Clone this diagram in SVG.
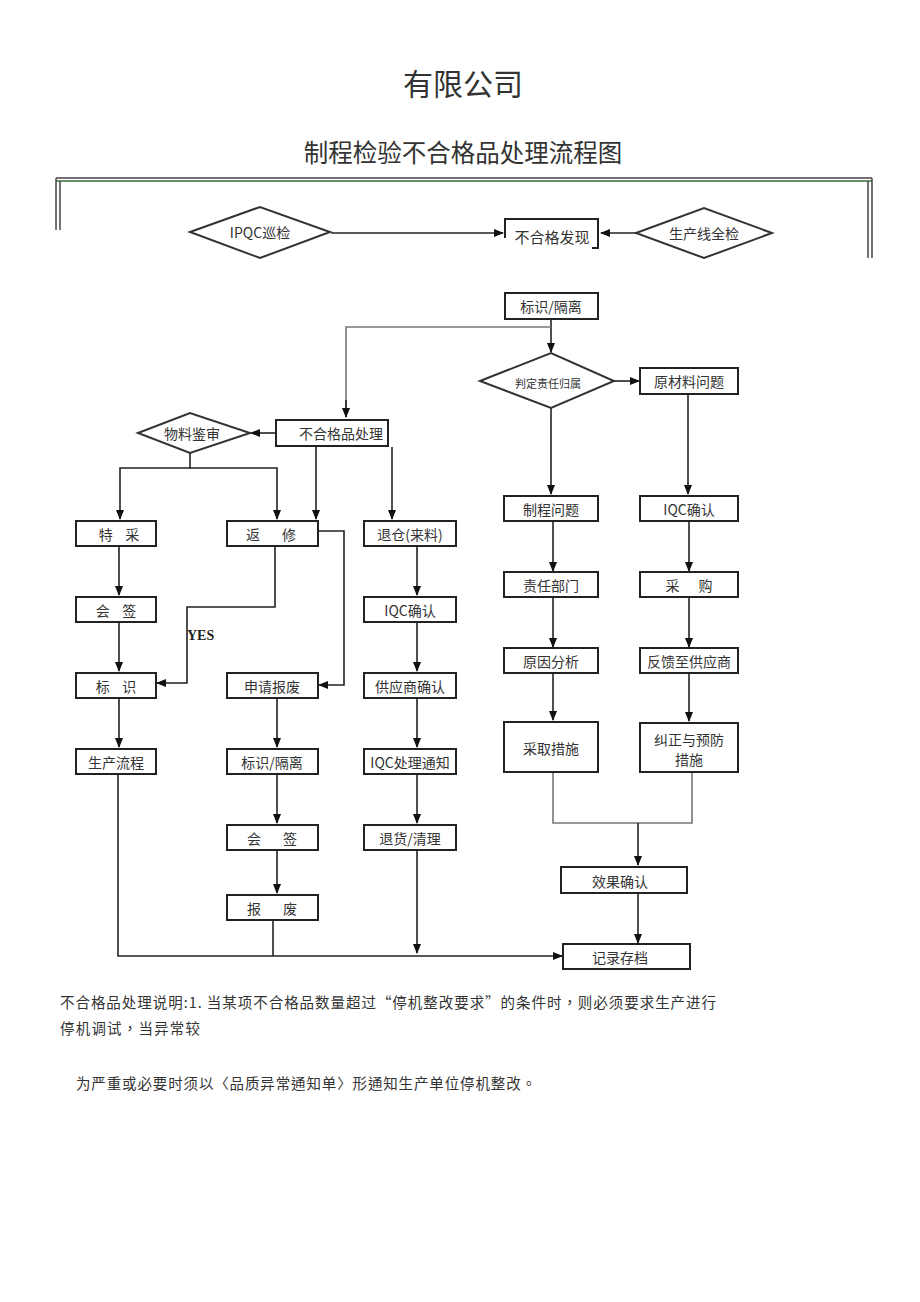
<svg xmlns="http://www.w3.org/2000/svg" width="920" height="1302" viewBox="0 0 920 1302">
<style>
.t{font-family:"Noto Sans CJK SC","Noto Sans",sans-serif;fill:#333;text-anchor:middle;dominant-baseline:central}
.b{fill:#fff;stroke:#222;stroke-width:2}
.d{fill:#fff;stroke:#333;stroke-width:2}
.c{fill:none;stroke:#222;stroke-width:1.6}
.g{fill:none;stroke:#777;stroke-width:1.6}
.f{fill:none;stroke:#444;stroke-width:1.5}
</style>
<defs>
<marker id="a" markerWidth="10" markerHeight="10" refX="9" refY="5" orient="auto" markerUnits="userSpaceOnUse">
<path d="M0,1 L10,5 L0,9 Z" fill="#111"/>
</marker>
</defs>
<rect width="920" height="1302" fill="#fff"/>
<text class="t" x="463" y="82" font-size="30">有限公司</text>
<text class="t" x="463" y="151" font-size="24.5">制程检验不合格品处理流程图</text>
<g id="frame">
<line class="f" x1="56" y1="178" x2="872" y2="178"/>
<line x1="56" y1="181" x2="872" y2="181" stroke="#3a6a3a" stroke-width="1.5"/>
<line class="f" x1="56" y1="178" x2="56" y2="230"/>
<line class="f" x1="60" y1="181" x2="60" y2="230"/>
<line class="f" x1="868" y1="181" x2="868" y2="258"/>
<line class="f" x1="872" y1="178" x2="872" y2="258"/>
</g>
<g id="connectors">
<line class="c" x1="331" y1="233" x2="503" y2="233" marker-end="url(#a)"/>
<line class="c" x1="636" y1="233" x2="601" y2="233" marker-end="url(#a)"/>
<line class="c" x1="551" y1="320" x2="551" y2="352" marker-end="url(#a)"/>
<polyline class="g" points="551,327 346,327 346,417" />
<line class="c" x1="346" y1="400" x2="346" y2="417" marker-end="url(#a)"/>
<line class="c" x1="614" y1="381" x2="639" y2="381" marker-end="url(#a)"/>
<line class="c" x1="276" y1="433" x2="251" y2="433" marker-end="url(#a)"/>
<polyline class="c" points="190,453 190,468 120,468 120,519" marker-end="url(#a)"/>
<polyline class="c" points="190,468 277,468 277,519" marker-end="url(#a)"/>
<line class="c" x1="316" y1="447" x2="316" y2="519" marker-end="url(#a)"/>
<line class="c" x1="392" y1="447" x2="392" y2="519" marker-end="url(#a)"/>
<line class="c" x1="551" y1="408" x2="551" y2="494" marker-end="url(#a)"/>
<line class="c" x1="688" y1="395" x2="688" y2="494" marker-end="url(#a)"/>
<line class="c" x1="119" y1="547" x2="119" y2="595" marker-end="url(#a)"/>
<line class="c" x1="119" y1="623" x2="119" y2="671" marker-end="url(#a)"/>
<line class="c" x1="119" y1="699" x2="119" y2="747" marker-end="url(#a)"/>
<polyline class="c" points="275,547 275,607 187,607 187,683 157,683" marker-end="url(#a)"/>
<polyline class="c" points="319,531 344,531 344,685 319,685" marker-end="url(#a)"/>
<line class="c" x1="277" y1="699" x2="277" y2="747" marker-end="url(#a)"/>
<line class="c" x1="277" y1="774" x2="277" y2="823" marker-end="url(#a)"/>
<line class="c" x1="277" y1="850" x2="277" y2="893" marker-end="url(#a)"/>
<line class="c" x1="417" y1="547" x2="417" y2="595" marker-end="url(#a)"/>
<line class="c" x1="417" y1="623" x2="417" y2="671" marker-end="url(#a)"/>
<line class="c" x1="417" y1="699" x2="417" y2="747" marker-end="url(#a)"/>
<line class="c" x1="417" y1="774" x2="417" y2="823" marker-end="url(#a)"/>
<line class="c" x1="417" y1="850" x2="417" y2="953" marker-end="url(#a)"/>
<polyline class="c" points="118,774 118,956 562,956" marker-end="url(#a)"/>
<line class="c" x1="273" y1="920" x2="273" y2="956"/>
<line class="c" x1="553" y1="522" x2="553" y2="571" marker-end="url(#a)"/>
<line class="c" x1="553" y1="598" x2="553" y2="647" marker-end="url(#a)"/>
<line class="c" x1="553" y1="674" x2="553" y2="720" marker-end="url(#a)"/>
<line class="c" x1="689" y1="522" x2="689" y2="571" marker-end="url(#a)"/>
<line class="c" x1="689" y1="598" x2="689" y2="647" marker-end="url(#a)"/>
<line class="c" x1="689" y1="674" x2="689" y2="721" marker-end="url(#a)"/>
<polyline class="g" points="553,773 553,823 692,823 692,773"/>
<line class="c" x1="638" y1="823" x2="638" y2="865" marker-end="url(#a)"/>
<line class="c" x1="638" y1="894" x2="638" y2="943" marker-end="url(#a)"/>
</g>
<text x="187" y="640" font-family="Liberation Serif,serif" font-weight="bold" font-size="14" fill="#222">YES</text>
<g id="n-ipqc"><polygon class="d" points="190,232 260,207 330,232 260,258"/><text class="t" x="260" y="232" font-size="14">IPQC巡检</text></g>
<g id="n-found"><polyline fill="none" stroke="#222" stroke-width="2" points="505,238 505,219 598,219 598,248 592,248"/><text class="t" x="552" y="236" font-size="15">不合格发现</text></g>
<g id="n-line"><polygon class="d" points="636,233 704,208 772,233 704,258"/><text class="t" x="704" y="233" font-size="14">生产线全检</text></g>
<g id="n-mark"><rect class="b" x="505" y="293" width="93" height="26"/><text class="t" x="551" y="306" font-size="14">标识/隔离</text></g>
<g id="n-judge"><polygon class="d" points="480,381 551,353 614,381 551,408"/><text class="t" x="548" y="383" font-size="11">判定责任归属</text></g>
<g id="n-raw"><rect class="b" x="640" y="368" width="98" height="26"/><text class="t" x="689" y="381" font-size="14">原材料问题</text></g>
<g id="n-ng"><rect class="b" x="276" y="420" width="112" height="26"/><text class="t" x="341" y="433" font-size="14">不合格品处理</text></g>
<g id="n-review"><polygon class="d" points="138,433 190,413 250,433 190,453"/><text class="t" x="192" y="433" font-size="14">物料鉴审</text></g>
<g id="n-tc"><rect class="b" x="76" y="521" width="80" height="25"/><text class="t" x="119" y="534" font-size="14" xml:space="preserve">特    采</text></g>
<g id="n-fx"><rect class="b" x="227" y="521" width="91" height="25"/><text class="t" x="271" y="534" font-size="14" xml:space="preserve">返       修</text></g>
<g id="n-tcl"><rect class="b" x="364" y="521" width="92" height="25"/><text class="t" x="410" y="534" font-size="14">退仓(来料)</text></g>
<g id="n-hq1"><rect class="b" x="76" y="597" width="80" height="25"/><text class="t" x="116" y="610" font-size="14" xml:space="preserve">会    签</text></g>
<g id="n-iqc1"><rect class="b" x="364" y="597" width="92" height="25"/><text class="t" x="410" y="610" font-size="14">IQC确认</text></g>
<g id="n-bs"><rect class="b" x="76" y="673" width="80" height="25"/><text class="t" x="116" y="686" font-size="14" xml:space="preserve">标    识</text></g>
<g id="n-sqbf"><rect class="b" x="227" y="673" width="91" height="25"/><text class="t" x="272" y="686" font-size="14">申请报废</text></g>
<g id="n-gys"><rect class="b" x="364" y="673" width="92" height="25"/><text class="t" x="410" y="686" font-size="14">供应商确认</text></g>
<g id="n-sclc"><rect class="b" x="76" y="749" width="80" height="25"/><text class="t" x="116" y="762" font-size="14">生产流程</text></g>
<g id="n-bsgl"><rect class="b" x="227" y="749" width="91" height="25"/><text class="t" x="272" y="762" font-size="14">标识/隔离</text></g>
<g id="n-iqctz"><rect class="b" x="364" y="749" width="92" height="25"/><text class="t" x="410" y="762" font-size="14">IQC处理通知</text></g>
<g id="n-hq2"><rect class="b" x="227" y="825" width="91" height="25"/><text class="t" x="272" y="838" font-size="14" xml:space="preserve">会       签</text></g>
<g id="n-th"><rect class="b" x="364" y="825" width="92" height="25"/><text class="t" x="410" y="838" font-size="14">退货/清理</text></g>
<g id="n-bf"><rect class="b" x="227" y="895" width="91" height="25"/><text class="t" x="272" y="908" font-size="14" xml:space="preserve">报       废</text></g>
<g id="n-zcwt"><rect class="b" x="504" y="496" width="94" height="25"/><text class="t" x="551" y="509" font-size="14">制程问题</text></g>
<g id="n-iqc2"><rect class="b" x="640" y="496" width="98" height="25"/><text class="t" x="689" y="509" font-size="14">IQC确认</text></g>
<g id="n-zrbm"><rect class="b" x="504" y="572" width="94" height="25"/><text class="t" x="551" y="585" font-size="14">责任部门</text></g>
<g id="n-cg"><rect class="b" x="640" y="572" width="98" height="25"/><text class="t" x="689" y="585" font-size="14" xml:space="preserve">采      购</text></g>
<g id="n-yyfx"><rect class="b" x="504" y="648" width="94" height="25"/><text class="t" x="551" y="661" font-size="14">原因分析</text></g>
<g id="n-fk"><rect class="b" x="640" y="648" width="98" height="25"/><text class="t" x="689" y="661" font-size="14">反馈至供应商</text></g>
<g id="n-cqcs"><rect class="b" x="504" y="722" width="94" height="50"/><text class="t" x="551" y="748" font-size="14">采取措施</text></g>
<g id="n-jz"><rect class="b" x="640" y="723" width="98" height="49"/><text class="t" x="689" y="739" font-size="14">纠正与预防</text><text class="t" x="689" y="759" font-size="14">措施</text></g>
<g id="n-xg"><rect class="b" x="561" y="867" width="126" height="26"/><text class="t" x="620" y="881" font-size="14">效果确认</text></g>
<g id="n-jl"><rect class="b" x="563" y="944" width="127" height="25"/><text class="t" x="620" y="957" font-size="14">记录存档</text></g>
<g id="notes" font-family="Noto Sans CJK TC,Noto Sans CJK SC,sans-serif" font-size="14.5" fill="#333">
<text x="60" y="1008" textLength="656" lengthAdjust="spacing">不合格品处理说明:1. 当某项不合格品数量超过“停机整改要求”的条件时，则必须要求生产进行</text>
<text x="60" y="1034" textLength="140" lengthAdjust="spacing">停机调试，当异常较</text>
<text x="76" y="1089" textLength="460" lengthAdjust="spacing">为严重或必要时须以〈品质异常通知单〉形通知生产单位停机整改。</text>
</g>
</svg>
